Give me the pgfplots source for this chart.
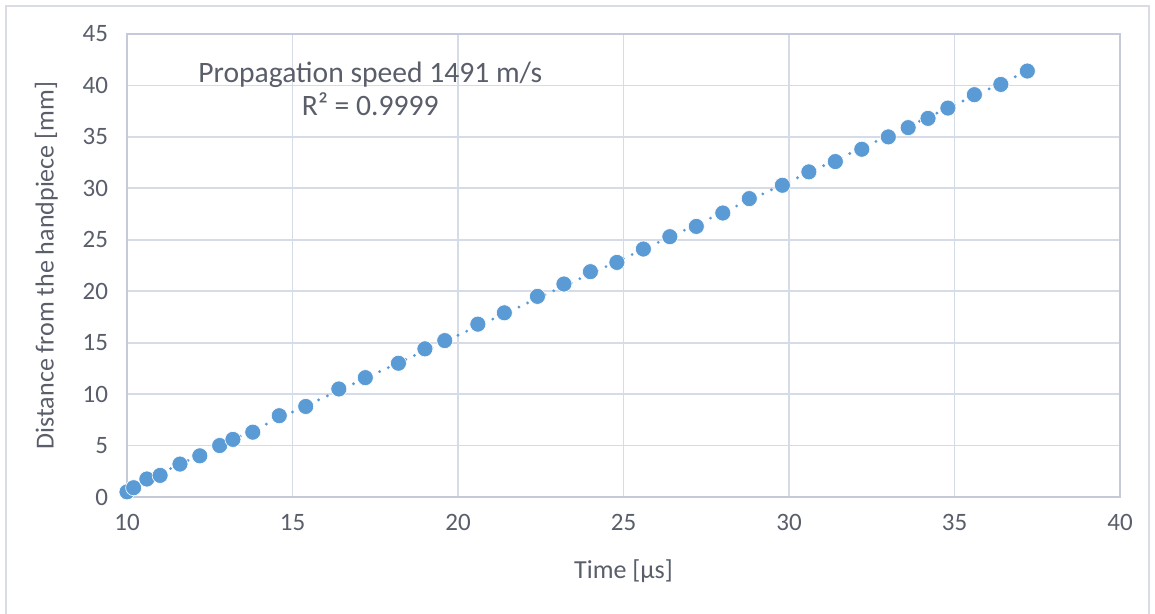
\documentclass[border=0pt]{standalone}
\usepackage{pgfplots}
\usepackage{pgfplotstable}
\pgfplotsset{compat=1.18}
\usepackage{fontspec}
\setmainfont{Carlito}

\definecolor{ptblue}{RGB}{91,155,213}
\definecolor{gridc}{RGB}{214,219,232}
\definecolor{axc}{RGB}{196,202,218}
\definecolor{txt}{RGB}{89,94,106}
\definecolor{frame}{RGB}{217,220,228}

\pgfplotstableread{
t d
10.0 0.5
10.2 0.9
10.6 1.75
11.0 2.1
11.6 3.2
12.2 4.0
12.8 5.0
13.2 5.6
13.8 6.3
14.6 7.9
15.4 8.8
16.4 10.5
17.2 11.6
18.2 13.0
19.0 14.4
19.6 15.2
20.6 16.8
21.4 17.9
22.4 19.5
23.2 20.7
24.0 21.9
24.8 22.8
25.6 24.1
26.4 25.3
27.2 26.3
28.0 27.6
28.8 29.0
29.8 30.3
30.6 31.6
31.4 32.6
32.2 33.8
33.0 35.0
33.6 35.9
34.2 36.8
34.8 37.8
35.6 39.1
36.4 40.1
37.2 41.4
}\speed

\begin{document}
\begin{tikzpicture}
\useasboundingbox (-63.5pt,-58.5pt) rectangle (514pt,248.5pt);
\draw[frame, line width=0.8pt] (-60.5pt,-58.5pt) -- (-60.5pt,245.5pt) -- (511pt,245.5pt) -- (511pt,-58.5pt);
\begin{axis}[
    at={(0,0)}, anchor=south west,
    scale only axis, width=496.5pt, height=231.5pt,
    xmin=10, xmax=40, ymin=0, ymax=45,
    xtick={10,15,...,40}, ytick={0,5,...,45},
    grid=major, major grid style={gridc, line width=0.9pt},
    axis line style={axc, line width=1pt},
    tick style={draw=none},
    tick label style={font=\fontsize{12.5}{14}\selectfont, text=txt},
    /pgf/number format/assume math mode=true,
    xticklabel style={yshift=-5pt},
    yticklabel style={xshift=-6pt},
    xlabel={Time [µs]}, ylabel={Distance from the handpiece [mm]},
    label style={font=\fontsize{13}{15}\selectfont, text=txt},
    xlabel style={yshift=-8pt},
    ylabel style={yshift=5.5pt},
    clip=false,
]
\addplot[ptblue, line width=1.6pt, line cap=round, dash pattern=on 0pt off 4.8pt]
    table[x=t, y={create col/linear regression={y=d}}] {\speed};
\addplot[only marks, mark=*, mark size=4pt, mark options={fill=ptblue, draw=white, line width=0.3pt}]
    table[x=t, y=d] {\speed};
\node[font=\fontsize{14.8}{16.5}\selectfont, text=txt, align=center] at (axis cs:17.35,39.7)
    {Propagation speed 1491 m/s\\ R² = 0.9999};
\end{axis}
\end{tikzpicture}
\end{document}
